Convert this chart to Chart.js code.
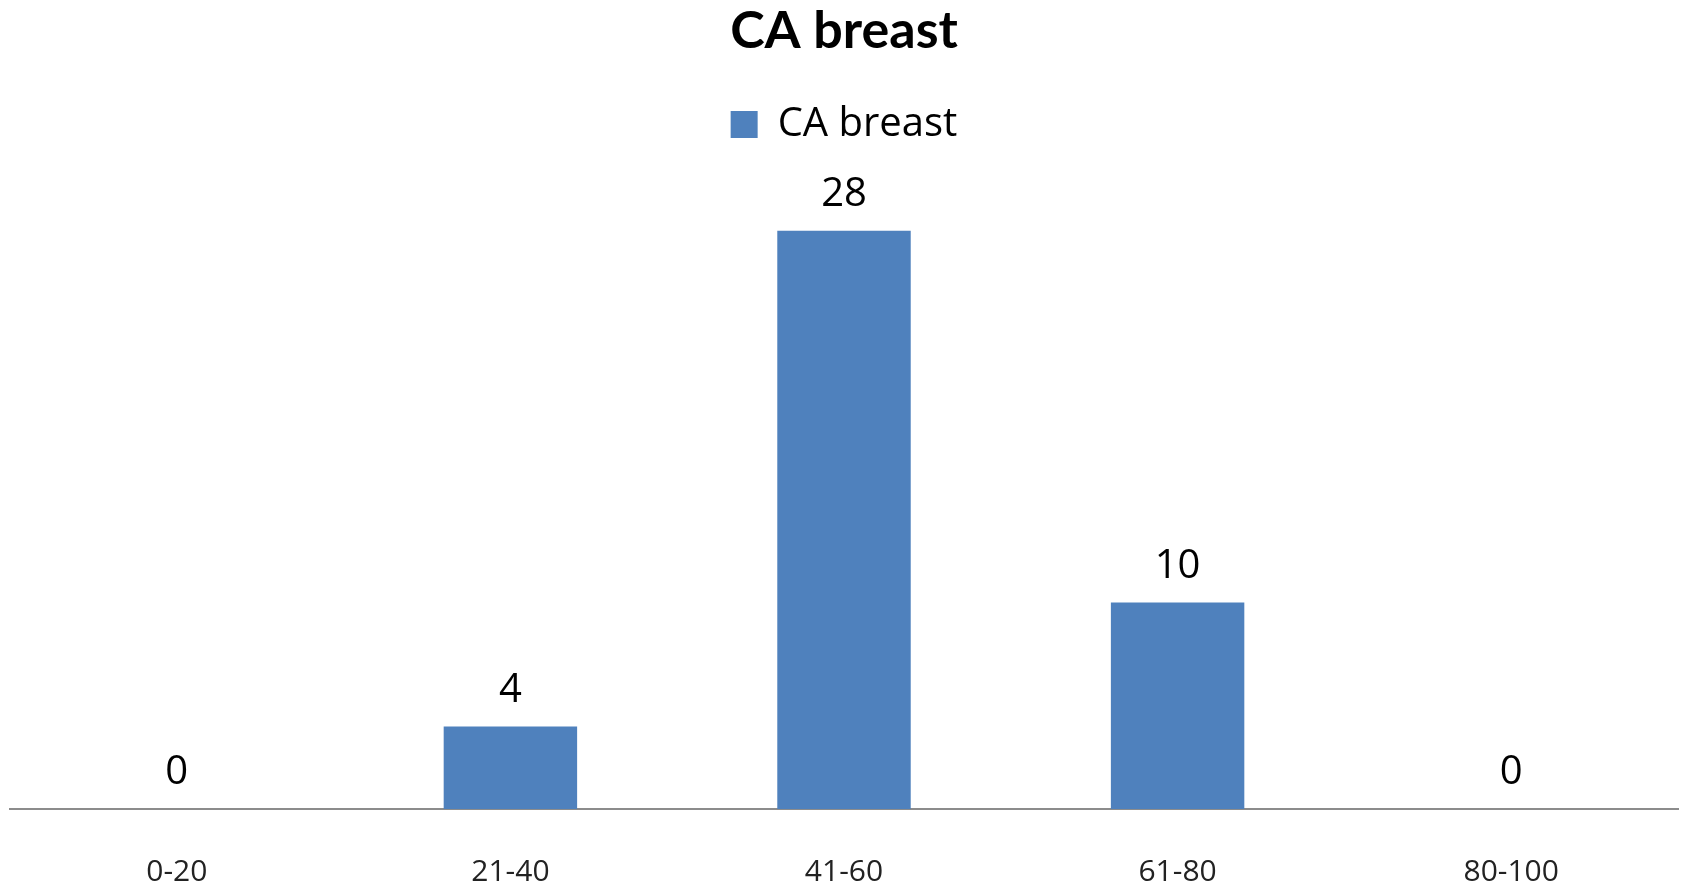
<!DOCTYPE html>
<html>
<head>
<meta charset="utf-8">
<script src="https://cdn.jsdelivr.net/npm/chart.js@4/dist/chart.umd.min.js"></script>
<style>
  html, body { margin: 0; padding: 0; background: #fff; overflow: hidden; }
  canvas { display: block; }
</style>
</head>
<body>
<canvas id="breastChart" width="1683" height="889"></canvas>
<script>
const ageGroups = ['0-20', '21-40', '41-60', '61-80', '80-100'];
const caBreast = [0, 4, 28, 10, 0];

// draws the value above every bar
const valueLabels = {
  id: 'valueLabels',
  afterDatasetsDraw(chart) {
    const c = chart.ctx;
    c.save();
    c.font = '40px "Open Sans", sans-serif';
    c.fillStyle = '#000';
    c.textAlign = 'center';
    c.textBaseline = 'bottom';
    chart.getDatasetMeta(0).data.forEach((bar, i) => {
      c.fillText(String(caBreast[i]), bar.x, bar.y - 16);
    });
    c.restore();
  }
};

const ctx = document.getElementById('breastChart').getContext('2d');
new Chart(ctx, {
  type: 'bar',
  data: {
    labels: ageGroups,
    datasets: [{
      label: 'CA breast',
      data: caBreast,
      backgroundColor: '#4f81bd',
      barPercentage: 1,
      categoryPercentage: 0.4
    }]
  },
  options: {
    responsive: false,
    animation: false,
    layout: { padding: { left: 10, right: 5, top: 0, bottom: 0 } },
    plugins: {
      title: {
        display: true,
        text: 'CA breast',
        color: '#000',
        font: { family: 'Lato, sans-serif', size: 52, weight: 'bold' },
        padding: { top: 0, bottom: 32 }
      },
      legend: {
        display: true,
        labels: {
          color: '#000',
          boxWidth: 27,
          boxHeight: 27,
          font: { family: '"Open Sans", sans-serif', size: 40 }
        }
      },
      tooltip: { enabled: false }
    },
    scales: {
      x: {
        grid: { display: false, drawTicks: false },
        border: { display: true, color: '#8c8c8c', width: 2 },
        ticks: {
          color: '#222',
          padding: 45,
          font: { family: '"Open Sans", sans-serif', size: 30 }
        },
        afterFit(scale) { scale.height = 80; }
      },
      y: {
        display: false,
        min: 0,
        max: 31.7
      }
    }
  },
  plugins: [valueLabels]
});
</script>
</body>
</html>
